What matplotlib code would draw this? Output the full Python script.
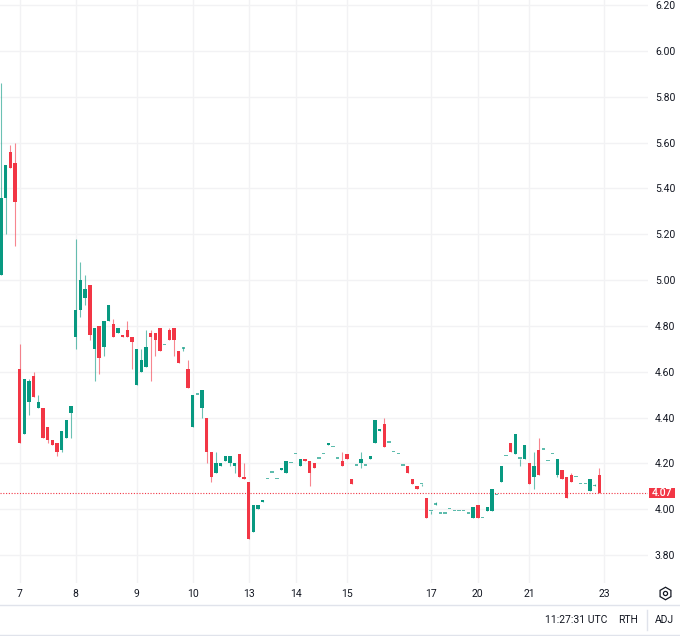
import matplotlib.pyplot as plt
import matplotlib.transforms as mtransforms
from matplotlib.patches import Rectangle
import numpy as np

# hourly candles, oldest first (a day label sits on the first bar of the day)
opens = [
    5.02, 5.36, 5.56, 5.51,                                                # 6
    4.61, 4.33, 4.47, 4.58, 4.44, 4.44, 4.36, 4.30, 4.29, 4.26, 4.31, 4.42,  # 7
    4.75, 4.87, 4.92, 4.98, 4.70, 4.80, 4.71, 4.82, 4.81, 4.77, 4.76, 4.78, 4.75,  # 8
    4.54, 4.60, 4.62, 4.77, 4.77, 4.79, 4.715, 4.78, 4.79, 4.69, 4.70, 4.61,  # 9
    4.36, 4.50, 4.44, 4.40, 4.25, 4.16, 4.19, 4.21, 4.20, 4.19, 4.24, 4.14,  # 10
    4.12, 3.90, 4.00, 4.03, 4.13, 4.16, 4.13, 4.17, 4.16, 4.20,            # 13
    4.24, 4.19, 4.22, 4.21, 4.20, 4.22, 4.24, 4.28, 4.27, 4.22, 4.21,      # 14
    4.24, 4.13, 4.19, 4.20, 4.19, 4.22, 4.29, 4.34, 4.37, 4.29, 4.25, 4.24,  # 15
    4.19, 4.19, 4.13, 4.10, 4.11, 4.05,                                    # 16
    3.99, 4.02, 3.98, 3.98, 4.00, 3.99, 3.99, 3.99, 3.98, 3.96,            # 17
    4.02, 3.96, 3.99, 3.99, 4.06, 4.12, 4.23, 4.29, 4.24, 4.22, 4.22,      # 20
    4.20, 4.14, 4.26, 4.26, 4.21, 4.24, 4.15, 4.17, 4.14, 4.15, 4.14, 4.11,  # 21
    4.11, 4.08, 4.10, 4.15,                                                # 22
]
highs = [
    5.86, 5.50, 5.59, 5.60,
    4.72, 4.57, 4.57, 4.60, 4.50, 4.44, 4.36, 4.30, 4.29, 4.34, 4.39, 4.45,
    5.18, 5.08, 5.02, 4.98, 4.79, 4.80, 4.82, 4.89, 4.83, 4.79, 4.76, 4.82, 4.75,
    4.70, 4.70, 4.78, 4.78, 4.77, 4.79, 4.715, 4.79, 4.79, 4.69, 4.71, 4.65,
    4.50, 4.50, 4.52, 4.40, 4.25, 4.25, 4.20, 4.23, 4.23, 4.20, 4.24, 4.20,
    4.12, 4.02, 4.02, 4.04, 4.13, 4.16, 4.13, 4.18, 4.21, 4.20,
    4.24, 4.22, 4.22, 4.21, 4.20, 4.22, 4.24, 4.29, 4.27, 4.22, 4.25,
    4.24, 4.13, 4.19, 4.25, 4.19, 4.23, 4.39, 4.35, 4.40, 4.29, 4.25, 4.24,
    4.19, 4.19, 4.13, 4.10, 4.11, 4.05,
    3.99, 4.03, 3.98, 3.98, 4.00, 3.99, 3.99, 3.99, 3.98, 4.01,
    4.02, 3.96, 4.01, 4.09, 4.06, 4.19, 4.23, 4.29, 4.33, 4.22, 4.28,
    4.20, 4.25, 4.31, 4.26, 4.21, 4.24, 4.22, 4.17, 4.14, 4.16, 4.14, 4.11,
    4.11, 4.13, 4.11, 4.18,
]
lows = [
    5.02, 5.20, 5.49, 5.15,
    4.29, 4.33, 4.41, 4.49, 4.44, 4.31, 4.29, 4.28, 4.23, 4.25, 4.31, 4.31,
    4.70, 4.84, 4.89, 4.74, 4.56, 4.59, 4.67, 4.82, 4.75, 4.77, 4.75, 4.75, 4.61,
    4.54, 4.60, 4.62, 4.56, 4.67, 4.69, 4.715, 4.74, 4.67, 4.64, 4.69, 4.53,
    4.36, 4.50, 4.40, 4.20, 4.12, 4.16, 4.19, 4.21, 4.19, 4.16, 4.14, 4.13,
    3.87, 3.90, 4.00, 4.03, 4.13, 4.16, 4.13, 4.17, 4.16, 4.20,
    4.24, 4.19, 4.21, 4.10, 4.18, 4.22, 4.24, 4.28, 4.27, 4.22, 4.19,
    4.22, 4.11, 4.19, 4.18, 4.19, 4.22, 4.29, 4.34, 4.27, 4.29, 4.25, 4.24,
    4.19, 4.16, 4.11, 4.09, 4.10, 3.96,
    3.98, 4.02, 3.98, 3.98, 4.00, 3.99, 3.99, 3.99, 3.98, 3.96,
    3.96, 3.96, 3.99, 3.99, 4.06, 4.12, 4.23, 4.25, 4.24, 4.19, 4.22,
    4.11, 4.09, 4.15, 4.26, 4.21, 4.24, 4.14, 4.13, 4.05, 4.12, 4.14, 4.11,
    4.11, 4.08, 4.10, 4.07,
]
closes = [
    5.36, 5.50, 5.49, 5.34,
    4.29, 4.57, 4.56, 4.49, 4.47, 4.31, 4.30, 4.28, 4.25, 4.34, 4.39, 4.45,
    4.87, 5.00, 4.96, 4.76, 4.79, 4.66, 4.82, 4.89, 4.75, 4.79, 4.75, 4.75, 4.73,
    4.70, 4.65, 4.71, 4.75, 4.74, 4.69, 4.715, 4.74, 4.74, 4.64, 4.70, 4.53,
    4.50, 4.50, 4.52, 4.25, 4.14, 4.20, 4.20, 4.23, 4.23, 4.20, 4.14, 4.13,
    3.87, 4.02, 4.02, 4.04, 4.13, 4.16, 4.13, 4.18, 4.21, 4.20,
    4.24, 4.22, 4.21, 4.16, 4.18, 4.22, 4.24, 4.29, 4.27, 4.22, 4.19,
    4.22, 4.11, 4.19, 4.22, 4.19, 4.23, 4.39, 4.35, 4.27, 4.29, 4.25, 4.24,
    4.19, 4.16, 4.11, 4.09, 4.11, 3.96,
    3.99, 4.02, 3.98, 3.98, 4.00, 3.99, 3.99, 3.99, 3.98, 4.01,
    3.96, 3.96, 4.01, 4.09, 4.06, 4.19, 4.23, 4.25, 4.33, 4.22, 4.28,
    4.11, 4.19, 4.15, 4.26, 4.21, 4.24, 4.22, 4.13, 4.05, 4.12, 4.14, 4.11,
    4.11, 4.13, 4.10, 4.07,
]

day_labels = ['7', '8', '9', '10', '13', '14', '15', '17', '20', '21', '23']
day_first_bar = [4, 16, 29, 41, 53, 63, 74, 92, 102, 113, 129]
price_ticks = [3.80, 4.00, 4.20, 4.40, 4.60, 4.80, 5.00, 5.20, 5.40, 5.60, 5.80, 6.00, 6.20]
last_price = 4.07

UP = '#089981'
DOWN = '#f23645'
GRID = '#f2f2f4'
TEXT = '#131722'

plt.rcParams['font.family'] = ['Roboto', 'DejaVu Sans']

o = np.array(opens)
h = np.array(highs)
l = np.array(lows)
c = np.array(closes)
x = np.arange(len(o))

fig = plt.figure(figsize=(6.8, 6.36), dpi=100)
ax = fig.add_axes([0, 53 / 636, 648 / 680, 583 / 636])

colors = np.where(c >= o, UP, DOWN)
doji = np.isclose(c, o)

# wicks
ax.vlines(x, l, h, colors=colors, linewidth=0.8, alpha=0.6, zorder=2)

# bodies (doji get a thin dash)
bottom = np.minimum(o, c)
height = np.maximum(np.abs(c - o), 0.006)
body_alpha = np.where(doji, 0.65, 1.0)
for xi, b, hi, col, a in zip(x, bottom, height, colors, body_alpha):
    ax.bar(xi, hi, bottom=b, width=0.72, color=col, alpha=a, linewidth=0, zorder=3)

# last price line + label box on the price scale
ax.axhline(last_price, color=DOWN, linestyle=(0, (1, 1.5)), linewidth=0.8, zorder=1)
trans = mtransforms.blended_transform_factory(ax.transAxes, ax.transData)
half = 5 / 229.2
ax.add_patch(Rectangle((1.0 + 1 / 648, last_price - half), 26 / 648, 2 * half,
                       transform=trans, facecolor=DOWN, edgecolor='none', clip_on=False, zorder=5))
ax.text(1.0 + 14 / 648, last_price, f'{last_price:.2f}', transform=trans, ha='center', va='center',
        color='white', fontsize=7.5, fontweight='medium', clip_on=False, zorder=6)

ax.set_xlim(-0.215, 138.4)
ax.set_ylim(3.678, 6.222)

ax.set_xticks(day_first_bar)
ax.set_xticklabels(day_labels)
ax.set_yticks(price_ticks)
ax.set_yticklabels([f'{p:.2f}' for p in price_ticks])
ax.yaxis.tick_right()
ax.tick_params(axis='both', length=0, labelsize=7.5, labelcolor=TEXT)
ax.tick_params(axis='y', pad=5)
ax.tick_params(axis='x', pad=4)
ax.grid(True, color=GRID, linewidth=1, zorder=0)
ax.set_axisbelow(True)
for s in ax.spines.values():
    s.set_visible(False)

# footer strip drawn in pixel coordinates
ov = fig.add_axes([0, 0, 1, 1], zorder=-1)
ov.set_xlim(0, 680)
ov.set_ylim(636, 0)
ov.axis('off')
ov.plot([0, 680], [605, 605], color='#e0e3eb', linewidth=1)
ov.plot([0, 680], [635, 635], color='#e0e3eb', linewidth=1)
ov.plot([647, 647], [610, 630], color='#e0e3eb', linewidth=1)
ov.plot([665], [593], marker='h', markersize=9, markerfacecolor='none', markeredgecolor=TEXT, markeredgewidth=0.9)
ov.plot([665], [593], marker='o', markersize=3, markerfacecolor='none', markeredgecolor=TEXT, markeredgewidth=0.9)
ov.text(576, 620, '11:27:31 UTC', ha='center', va='center', fontsize=7.5, color=TEXT)
ov.text(628, 620, 'RTH', ha='center', va='center', fontsize=7.5, color=TEXT)
ov.text(664, 620, 'ADJ', ha='center', va='center', fontsize=7.5, color=TEXT)

fig.savefig('out.png', dpi=100, facecolor='white')
